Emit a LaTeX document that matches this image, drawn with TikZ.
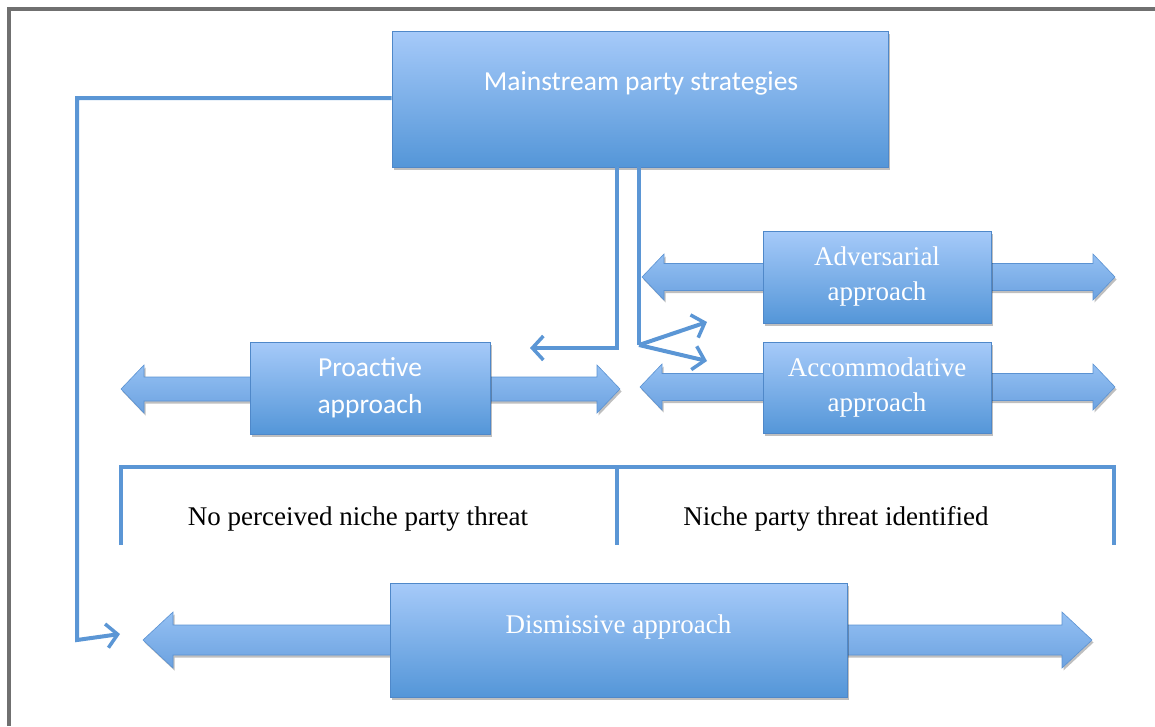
\documentclass[tikz,border=0pt]{standalone}
\usepackage{fontspec}
\setmainfont{Liberation Serif}
\newfontfamily\carlito{Carlito}
\usetikzlibrary{arrows.meta,shadows}
\definecolor{boxtop}{HTML}{A6CAF9}
\definecolor{boxbot}{HTML}{5496D8}
\definecolor{boxedge}{HTML}{4F88C9}
\definecolor{arrtop}{HTML}{94C0F3}
\definecolor{arrbot}{HTML}{6CA2E0}
\definecolor{arredge}{HTML}{5B92D2}
\definecolor{linec}{HTML}{5B96D5}
\definecolor{framec}{HTML}{707070}
\newcommand\blockarr[6]{%
  \path[barrow] (#1,#3) -- ({#1+#6},{#3-#5}) -- ({#1+#6},{#3-#4}) -- ({#2-#6},{#3-#4}) -- ({#2-#6},{#3-#5}) -- (#2,#3)
   -- ({#2-#6},{#3+#5}) -- ({#2-#6},{#3+#4}) -- ({#1+#6},{#3+#4}) -- ({#1+#6},{#3+#5}) -- cycle;}
\begin{document}
\begin{tikzpicture}[x=1pt,y=-1pt,
  box/.style={draw=boxedge, line width=0.8pt, top color=boxtop, bottom color=boxbot, inner sep=0pt,
    drop shadow={opacity=0.25, shadow xshift=1.5pt, shadow yshift=-2.5pt, fill=black}},
  barrow/.style={draw=arredge, line width=0.6pt, top color=arrtop, bottom color=arrbot,
    drop shadow={opacity=0.25, shadow xshift=1.5pt, shadow yshift=-2.5pt, fill=black}},
  sanstxt/.style={text=white, font=\carlito\fontsize{27.5}{37}\selectfont, align=center, inner sep=0pt},
  seriftxt/.style={text=white, font=\fontsize{27}{35}\selectfont, align=center, inner sep=0pt},
  blacktxt/.style={text=black, font=\fontsize{27}{32}\selectfont, inner sep=0pt},
  conn/.style={draw=linec, line width=4pt},
  arr/.style={conn, -{Straight Barb[length=11pt,width=24pt,line width=3.5pt]}},
  framel/.style={draw=framec, line width=3.5pt}
]
\useasboundingbox (0,0) rectangle (1155,726);
\draw[framel] (9,726) -- (9,9) -- (1155,9);

% block double arrows
\blockarr{642}{1115}{277}{13.5}{23}{22}
\blockarr{640}{1115}{387}{13.5}{23}{22}
\blockarr{121}{620}{389}{12}{24}{23}
\blockarr{143}{1092}{640}{15}{28}{30}

% boxes
\node[box, minimum width=496pt, minimum height=136pt] (main) at (640,99) {};
\node[box, minimum width=228pt, minimum height=92pt] (adv) at (877,277) {};
\node[box, minimum width=228pt, minimum height=91pt] (acc) at (877,388) {};
\node[box, minimum width=240pt, minimum height=92pt] (pro) at (370,388) {};
\node[box, minimum width=457pt, minimum height=114pt] (dis) at (618.5,640) {};

% texts
\node[sanstxt] (mainT) at (641,83) {Mainstream party strategies};
\node[sanstxt] (proT) at (370,388) {Proactive\\approach};
\node[seriftxt] (advT) at (877,277) {Adversarial\\approach};
\node[seriftxt] (accT) at (877,387) {Accommodative\\approach};
\node[seriftxt] (disT) at (618.5,627) {Dismissive approach};
\node[blacktxt] (noT) at (358,519) {No perceived niche party threat};
\node[blacktxt] (yesT) at (836,519) {Niche party threat identified};

% bracket
\coordinate (bl) at (121,545);
\coordinate (bm) at (617,545);
\coordinate (br) at (1114,545);
\draw[conn] (bl) -- (121,467) -- (1114,467) -- (br);
\draw[conn] (617,467) -- (bm);

% connectors from main box
\coordinate (proIn) at (530,348);
\coordinate (fan) at (639,345);
\coordinate (advIn) at (707,322);
\coordinate (accIn) at (707,361);
\coordinate (disIn) at (120,634);
\draw[arr] ([xshift=-23pt]main.south) -- (617,348) -- (proIn);
\draw[conn] ([xshift=-1pt]main.south) -- (fan);
\draw[arr] (fan) -- (advIn);
\draw[arr] (fan) -- (accIn);
\draw[arr] (main.west |- 0,98) -- (77,98) -- (77,640) -- (disIn);
\end{tikzpicture}
\end{document}
